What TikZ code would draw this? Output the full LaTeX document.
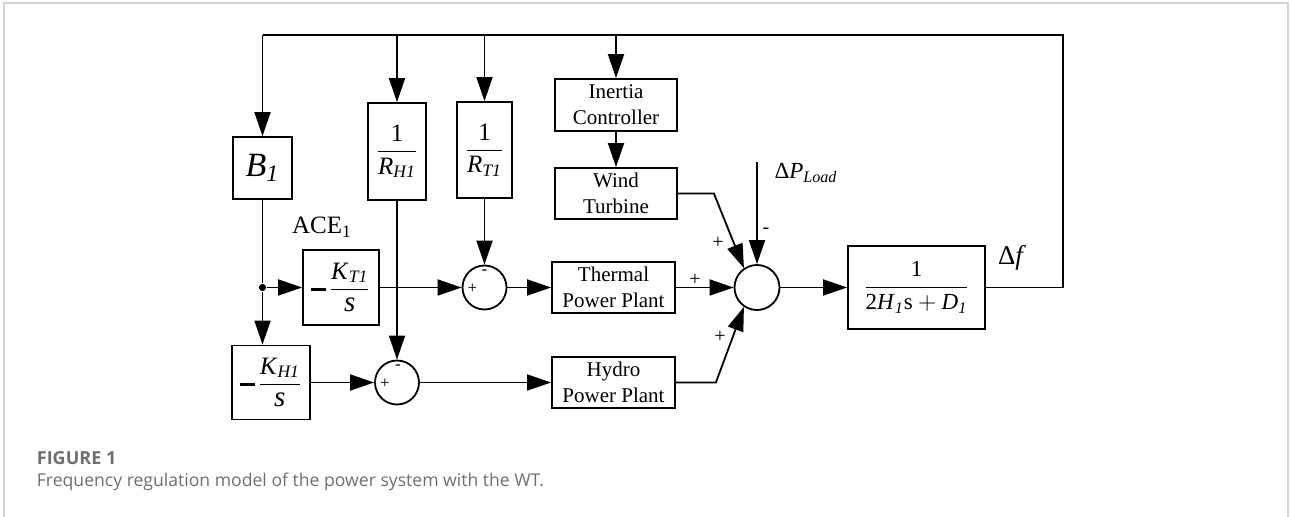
\documentclass[tikz,border=0pt]{standalone}
\usepackage{fontspec}
\setmainfont{Liberation Serif}
\newfontfamily\capfont{Open Sans}
\usepackage{tikz}
\usetikzlibrary{arrows.meta}
\definecolor{FrameGray}{HTML}{D4D4D4}
\definecolor{CaptionGray}{HTML}{6E6E6E}
\newcommand{\itsub}[2]{\textit{#1}\textsubscript{\textit{#2}}}
\newcommand{\tfrac}[2]{$\displaystyle\frac{\mbox{#1}}{\mbox{#2}}$}
\newcommand{\negdash}{$\vcenter{\hbox{\rule{7.5pt}{1.6pt}}}\mkern2mu$}
\newcommand{\bigs}{{\fontsize{14.5}{14}\selectfont\textit{s}}}

\begin{document}
\begin{tikzpicture}[x=0.5pt, y=-0.5pt, line width=0.9pt,
  font=\fontsize{10.5}{13}\selectfont,
  blk/.style={draw, inner sep=0pt, align=center},
  fracblk/.style={blk, font=\fontsize{12.5}{13}\selectfont},
  sumjn/.style={draw, circle, inner sep=0pt, minimum size=22pt},
  dot/.style={circle, fill, inner sep=0pt, minimum size=3.6pt},
  sgn/.style={font=\fontsize{8.5}{9}\selectfont, inner sep=0pt},
  bigsgn/.style={font=\fontsize{10}{10}\selectfont, inner sep=0pt},
  arr/.style={-{Triangle[length=12pt,width=8pt]}}]
  \useasboundingbox (0,0) rectangle (1290,517);
  \draw[FrameGray, line width=0.75pt] (4,517) -- (4,3) -- (1288,3) -- (1288,517);

  % blocks
  \node[blk, minimum width=29.5pt, minimum height=31pt, font=\fontsize{17}{17}\selectfont] (b1) at (262.5,168) {\itsub{B}{1}};
  \node[fracblk, minimum width=29pt, minimum height=48.5pt] (rh) at (397,151.5) {\tfrac{1}{\itsub{R}{H1}}};
  \node[fracblk, minimum width=27.5pt, minimum height=48pt] (rt) at (484.5,150) {\tfrac{1}{\itsub{R}{T1}}};
  \node[blk, minimum width=61pt, minimum height=26pt] (ic) at (616,105) {Inertia\\Controller};
  \node[blk, minimum width=61pt, minimum height=25.5pt] (wt) at (616,193.5) {Wind\\Turbine};
  \node[fracblk, minimum width=38pt, minimum height=37.5pt] (kt) at (341,287.5) {\negdash\tfrac{\itsub{K}{T1}}{\bigs}};
  \node[sumjn] (s1) at (484.5,287.5) {};
  \node[blk, minimum width=61.5pt, minimum height=25.5pt] (tp) at (613.5,287.5) {Thermal\\Power Plant};
  \node[fracblk, minimum width=39pt, minimum height=37pt] (kh) at (271,382.5) {\negdash\tfrac{\itsub{K}{H1}}{\bigs}};
  \node[sumjn] (s2) at (397,382.5) {};
  \node[blk, minimum width=61.5pt, minimum height=25.5pt] (hp) at (613.5,382.5) {Hydro\\Power Plant};
  \node[sumjn, minimum size=22.5pt] (sc) at (757,287.5) {};
  \node[blk, minimum width=68.5pt, minimum height=41.5pt, font=\fontsize{11.5}{12}\selectfont] (fin) at (916.5,287.5)
    {$\displaystyle\frac{\mbox{1}}{\mbox{2\itsub{H}{1}s}+\mbox{\itsub{D}{1}}}$};

  % labels
  \node[font=\fontsize{12.5}{13}\selectfont] (ace) at (322,227) {ACE\textsubscript{1}};
  \node[font=\fontsize{13.5}{14}\selectfont] (df) at (1012,258) {Δ\textit{f}};
  \node[font=\fontsize{11.5}{12}\selectfont] (dpl) at (806,173) {Δ\itsub{P}{Load}};

  % feedback
  \coordinate (tr) at (1063,35);
  \coordinate (ld) at (757,162);
  \draw (fin.east) -| (tr) -- (b1.north |- tr);
  \draw[arr] (b1.north |- tr) -- (b1);
  \foreach \n in {rh,rt,ic}
    \draw[arr] (\n.north |- tr) -- (\n);
  \draw[arr] (ic) -- (wt);

  % forward paths
  \node[dot] (jn) at (b1.south |- kt.west) {};
  \draw (b1) -- (jn);
  \draw[arr] (jn) -- (kt);
  \draw[arr] (jn) -- (jn |- kh.north);
  \draw[arr] (kt) -- (s1);
  \draw[arr] (rt) -- (s1);
  \draw[arr] (rh) -- (s2);
  \draw[arr] (kh) -- (s2);
  \draw[arr] (s1) -- (tp);
  \draw[arr] (s2) -- (hp);
  \draw[arr] (tp) -- (sc);
  \draw[arr] (wt.east) -- ++(36,0) -- (sc.124);
  \draw[arr] (hp.east) -- ++(40,0) -- (sc.236);
  \draw[arr] (ld) -- (sc);
  \draw[arr] (sc) -- (fin);

  % signs
  \node[sgn] at ([shift={(-12,1)}]s1) {+};
  \node[sgn] at ([shift={(0,-15)}]s1) {-};
  \node[sgn] at ([shift={(-12,1.5)}]s2) {+};
  \node[sgn] at ([shift={(1,-15)}]s2) {-};
  \node[bigsgn] at ([shift={(-39,-45)}]sc) {+};
  \node[bigsgn] at ([shift={(-62,-8)}]sc) {+};
  \node[bigsgn] at ([shift={(-37,49)}]sc) {+};
  \node[bigsgn] at ([shift={(9,-57)}]sc) {-};

  % caption
  \node[anchor=west, inner sep=0pt, text=CaptionGray, font=\capfont\bfseries\fontsize{9}{10}\selectfont] (fig) at (36,458) {FIGURE 1};
  \node[anchor=west, inner sep=0pt, text=CaptionGray, font=\capfont\fontsize{8.8}{10}\selectfont] (cap) at (36,482) {Frequency regulation model of the power system with the WT.};
\end{tikzpicture}
\end{document}
